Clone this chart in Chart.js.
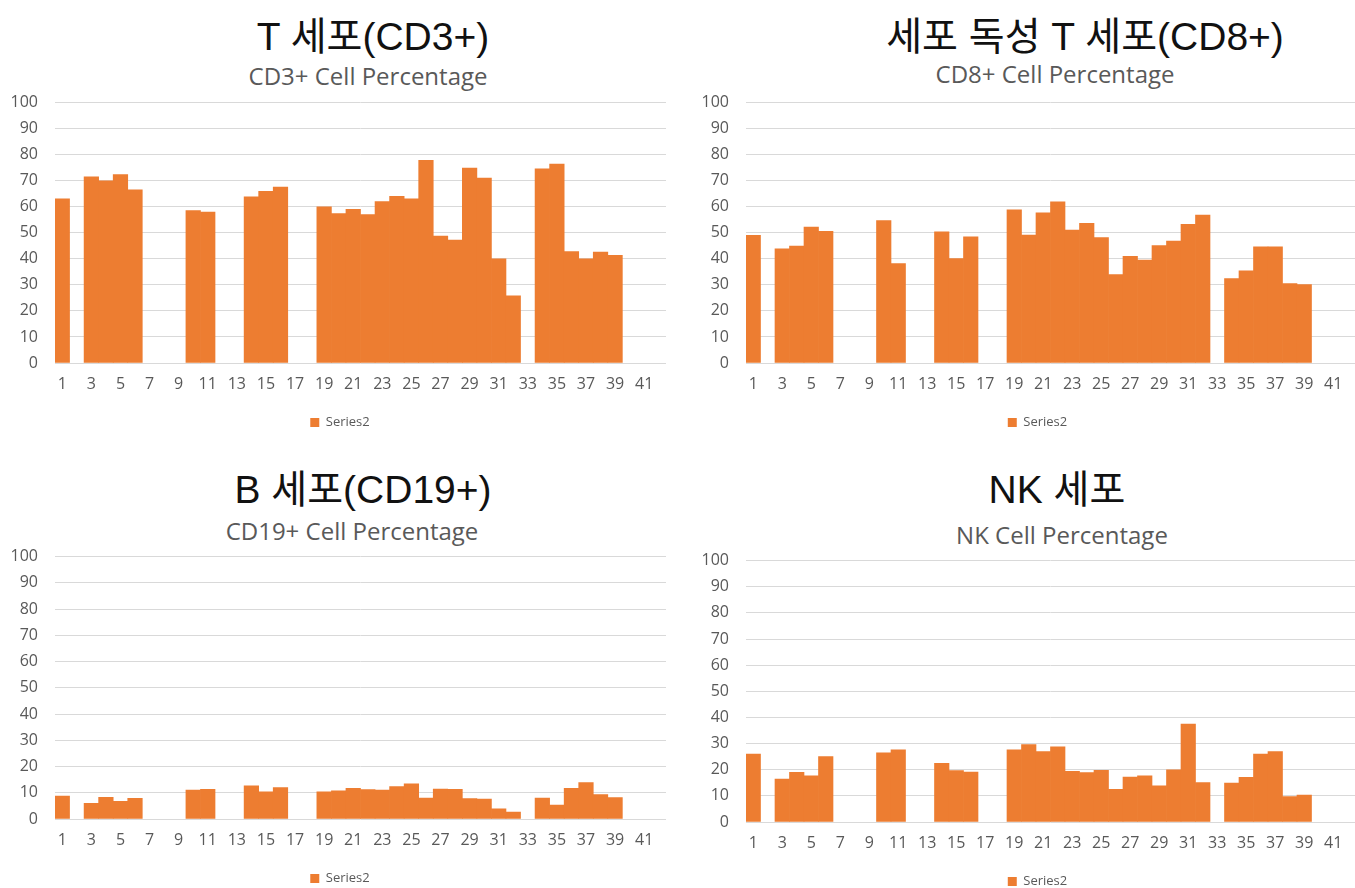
<!DOCTYPE html>
<html>
<head>
<meta charset="utf-8">
<script src="https://cdn.jsdelivr.net/npm/chart.js@4.4.1/dist/chart.umd.min.js"></script>
<style>
  html, body { margin: 0; padding: 0; background: #fff; }
  body { width: 1355px; height: 888px; position: relative; overflow: hidden; }
  canvas { position: absolute; }
  .title {
    position: absolute; width: 600px; text-align: center; white-space: nowrap;
    font-family: 'Liberation Sans', 'Noto Sans CJK KR', sans-serif; font-size: 39px;
    color: #111; line-height: 46px;
  }
  .sub {
    position: absolute; width: 600px; text-align: center; white-space: nowrap;
    font-family: 'Open Sans', sans-serif; font-size: 24px; color: #595959; line-height: 30px;
  }
</style>
</head>
<body>
<div class="title" style="left:73px; top:14px;">T 세포(CD3+)</div>
<div class="sub" style="left:68px; top:61px;">CD3+ Cell Percentage</div>
<div class="title" style="left:785px; top:14px;">세포 독성 T 세포(CD8+)</div>
<div class="sub" style="left:755px; top:59px;">CD8+ Cell Percentage</div>
<div class="title" style="left:63px; top:467px;">B 세포(CD19+)</div>
<div class="sub" style="left:52px; top:516px;">CD19+ Cell Percentage</div>
<div class="title" style="left:757px; top:467px;">NK 세포</div>
<div class="sub" style="left:762px; top:520px;">NK Cell Percentage</div>

<canvas id="cd3Chart" width="680" height="363" style="left:0px; top:76px;"></canvas>
<canvas id="cd8Chart" width="695" height="363" style="left:690px; top:76px;"></canvas>
<canvas id="cd19Chart" width="680" height="365" style="left:0px; top:530px;"></canvas>
<canvas id="nkChart" width="695" height="364" style="left:690px; top:534px;"></canvas>

<script>
"use strict";

// --- x categories (sample number) ---
const categories = ['1', '2', '3', '4', '5', '6', '7', '8', '9', '10', '11', '12', '13', '14',
    '15', '16', '17', '18', '19', '20', '21', '22', '23', '24', '25', '26', '27', '28',
    '29', '30', '31', '32', '33', '34', '35', '36', '37', '38', '39', '40', '41', '42'];

// --- values (null = no bar) ---
const cd3Values = [63, null, 71.5, 70, 72.4, 66.5, null, null, null, 58.5, 58, null, null, 63.8,
    65.9, 67.6, null, null, 60, 57.4, 59, 57, 62, 64, 63, 77.8, 48.7, 47.2,
    74.9, 71, 40, 25.8, null, 74.6, 76.4, 42.8, 40, 42.6, 41.3, null, null, null];

const cd8Values = [49, null, 43.8, 44.9, 52.2, 50.6, null, null, null, 54.7, 38.2, null, null, 50.4,
    40.1, 48.5, null, null, 58.8, 49.1, 57.7, 61.9, 51, 53.6, 48.2, 34, 41, 39.5,
    45.1, 46.8, 53.3, 56.8, null, 32.4, 35.4, 44.6, 44.6, 30.5, 30.1, null, null, null];

const cd19Values = [8.7, null, 6, 8.3, 6.7, 7.9, null, null, null, 11, 11.3, null, null, 12.6,
    10.4, 12, null, null, 10.4, 10.7, 11.7, 11.2, 11, 12.4, 13.4, 8, 11.4, 11.3,
    7.8, 7.6, 3.9, 2.6, null, 8, 5.3, 11.7, 13.9, 9.3, 8.2, null, null, null];

const nkValues = [26, null, 16.4, 19, 17.7, 25, null, null, null, 26.5, 27.6, null, null, 22.4,
    19.7, 19.1, null, null, 27.6, 29.6, 26.9, 28.8, 19.4, 18.9, 19.8, 12.5, 17.2, 17.7,
    13.8, 20, 37.5, 15.1, null, 14.9, 17.1, 26, 26.9, 9.7, 10.3, null, null, null];

const seriesName = 'Series2';
const barColor = '#ED7D31';
const textGray = '#595959';

Chart.defaults.font.family = "'Open Sans', sans-serif";
Chart.defaults.color = textGray;

// rightGap: an empty right-hand axis, so the plot ends where it should
// while the legend stays centred on the whole canvas
function drawBarChart(canvasId, values, yAxisWidth, rightGap) {
    const ctx = document.getElementById(canvasId).getContext('2d');
    return new Chart(ctx, {
        type: 'bar',
        data: {
            labels: categories,
            datasets: [{
                label: seriesName,
                data: values,
                backgroundColor: barColor,
                borderWidth: 0,
                barPercentage: 1.0,
                categoryPercentage: 1.0
            }]
        },
        options: {
            responsive: false,
            animation: false,
            devicePixelRatio: 1,
            layout: { padding: 0 },
            plugins: {
                legend: {
                    position: 'bottom',
                    labels: { boxWidth: 9, boxHeight: 9, padding: 10, font: { size: 13 }, color: textGray }
                },
                tooltip: { enabled: false }
            },
            scales: {
                x: {
                    grid: { display: false, drawTicks: false },
                    border: { display: false },
                    ticks: {
                        autoSkip: false, maxRotation: 0, padding: 12,
                        font: { size: 16 }, color: textGray,
                        callback: (val, idx) => (idx % 2 === 0 ? categories[idx] : '')
                    },
                    afterFit(scale) { scale.height = 43; }
                },
                y: {
                    min: 0, max: 100,
                    grid: { color: '#d9d9d9', lineWidth: 1, drawTicks: false },
                    border: { display: false },
                    ticks: { stepSize: 10, padding: 17, font: { size: 16 }, color: textGray },
                    afterFit(scale) { scale.width = yAxisWidth; }
                },
                yGap: {
                    type: 'linear', axis: 'y', position: 'right',
                    grid: { display: false, drawTicks: false },
                    border: { display: false },
                    ticks: { display: false },
                    afterFit(scale) { scale.width = rightGap; }
                }
            }
        }
    });
}

drawBarChart('cd3Chart', cd3Values, 55, 14);
drawBarChart('cd8Chart', cd8Values, 56, 30);
drawBarChart('cd19Chart', cd19Values, 55, 14);
drawBarChart('nkChart', nkValues, 56, 30);
</script>
</body>
</html>
